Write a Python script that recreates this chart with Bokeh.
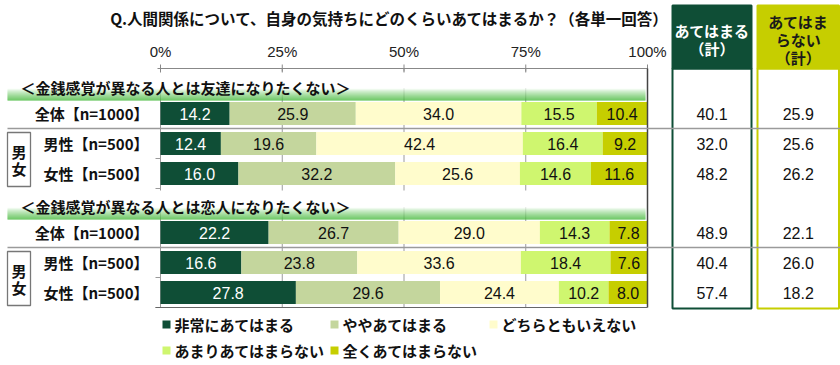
import numpy as np
from bokeh.plotting import figure
from bokeh.models import Range1d
from bokeh.core.properties import value
from bokeh.embed import file_html
from bokeh.resources import INLINE

# ---------------- data ----------------
title_text = "Q.人間関係について、自身の気持ちにどのくらいあてはまるか？（各単一回答）"
section_titles = ["＜金銭感覚が異なる人とは友達になりたくない＞",
                  "＜金銭感覚が異なる人とは恋人になりたくない＞"]
row_labels = ["全体【n=1000】", "男性【n=500】", "女性【n=500】",
              "全体【n=1000】", "男性【n=500】", "女性【n=500】"]
categories = ["非常にあてはまる", "ややあてはまる", "どちらともいえない",
              "あまりあてはまらない", "全くあてはまらない"]
very_much = [14.2, 12.4, 16.0, 22.2, 16.6, 27.8]
somewhat = [25.9, 19.6, 32.2, 26.7, 23.8, 29.6]
neither = [34.0, 42.4, 25.6, 29.0, 33.6, 24.4]
not_much = [15.5, 16.4, 14.6, 14.3, 18.4, 10.2]
not_at_all = [10.4, 9.2, 11.6, 7.8, 7.6, 8.0]
applies_total = [40.1, 32.0, 48.2, 48.9, 40.4, 57.4]
not_applies_total = [25.9, 25.6, 26.2, 22.1, 26.0, 18.2]
tick_values = [0, 25, 50, 75, 100]
tick_labels = ["0%", "25%", "50%", "75%", "100%"]
box1_header = ["あてはまる", "（計）"]
box2_header = ["あてはま", "らない", "（計）"]
gender_box_text = ["男", "女"]

# ---------------- style / layout ----------------
colors = ["#0f4e36", "#c4d69d", "#fffccc", "#cff66f", "#c6ce00"]
label_colors = ["white", "#111111", "#111111", "#111111", "#111111"]
JP = value("Noto Sans CJK JP")
NUM = value("Liberation Sans")

W, H = 840, 365
MARGIN = 0
X0_PAGE, X100_PAGE = 160.0, 647.0
AXIS_Y_PAGE = 68.0
ROW_PX = 30.0
PXU = (X100_PAGE - X0_PAGE) / 100.0


def px(xp):
    return (xp - X0_PAGE) / PXU


def py(yp):
    return (yp - AXIS_Y_PAGE) / ROW_PX


row_y_page = [113, 143, 173, 232, 262, 292]
header_y_page = [87, 206]
bottom_page = 307
row_y = [py(v) for v in row_y_page]
bar_h = 23 / ROW_PX

p = figure(width=W, height=H,
           x_range=Range1d(px(MARGIN), px(MARGIN + W)),
           y_range=Range1d(py(MARGIN + H), py(MARGIN)),
           output_backend="svg", toolbar_location=None,
           x_axis_location=None, y_axis_location=None,
           min_border=0, min_border_left=0, min_border_right=0,
           min_border_top=0, min_border_bottom=0)
p.grid.visible = False
p.outline_line_color = None
p.background_fill_color = "white"
p.border_fill_color = "white"

# vertical grid lines (behind bars)
p.segment(x0=tick_values[:-1], y0=[0] * 4, x1=tick_values[:-1], y1=[py(bottom_page)] * 4,
          line_color="#9a9a9a", line_width=1)
# left category ticks
bnd = [py(v) for v in [158, 188, 277, 307]]
p.segment(x0=[px(155)] * len(bnd), y0=bnd, x1=[0] * len(bnd), y1=bnd, line_color="#9a9a9a", line_width=1)

# section headers: white box + green gradient
for hy in header_y_page:
    p.quad(left=[px(7)], right=[px(645)], top=[py(hy - 16)], bottom=[py(hy + 1)],
           fill_color="white", line_color=None)
    n = 12
    tops = [py(hy + 1 + i) for i in range(n)]
    bots = [py(hy + 2 + i) for i in range(n)]
    c0 = np.array([250, 255, 250])
    c1 = np.array([70, 185, 60])
    cols = []
    for i in range(n):
        t = (i / (n - 1)) ** 0.8
        c = (c0 * (1 - t) + c1 * t).astype(int)
        cols.append("#%02x%02x%02x" % tuple(c))
    p.quad(left=[px(7)] * n, right=[px(645)] * n, top=tops, bottom=bots,
           fill_color=cols, line_color=None)

p.text(x=[px(20)] * 2, y=[py(v) for v in header_y_page], text=section_titles,
       text_font=JP, text_font_style="bold", text_font_size="15px",
       text_color="#111111", text_align="left", text_baseline="middle")

# stacked bars
series = [very_much, somewhat, neither, not_much, not_at_all]
left = np.zeros(len(row_y))
for vals, col, lc in zip(series, colors, label_colors):
    v = np.array(vals)
    right = left + v
    p.hbar(y=row_y, left=left, right=right, height=bar_h, fill_color=col, line_color=None)
    p.text(x=(left + right) / 2, y=row_y, text=["%.1f" % x for x in vals],
           text_font=NUM, text_font_size="16px", text_color=lc,
           text_align="center", text_baseline="middle")
    left = right

# top axis
p.segment(x0=[px(157)], y0=[0], x1=[100], y1=[0], line_color="#888888", line_width=1)
p.segment(x0=tick_values, y0=[py(64)] * 5, x1=tick_values, y1=[py(72)] * 5,
          line_color="#888888", line_width=1)
p.text(x=tick_values, y=[py(51)] * 5, text=tick_labels, text_font=NUM,
       text_font_size="15px", text_color="#222222", text_align="center", text_baseline="middle")
# right and bottom frame lines
p.segment(x0=[100], y0=[0], x1=[100], y1=[py(bottom_page)], line_color="#444444", line_width=1.5)
p.segment(x0=[px(155)], y0=[py(bottom_page)], x1=[100], y1=[py(bottom_page)],
          line_color="#666666", line_width=1.2)

# row labels
p.text(x=[px(148)] * 6, y=row_y, text=row_labels, text_font=JP, text_font_style="bold",
       text_font_size="15px", text_color="#111111", text_align="right", text_baseline="middle")

# 男女 boxes
for (a, b) in [(1, 2), (4, 5)]:
    cy = (row_y_page[a] + row_y_page[b]) / 2
    p.quad(left=[px(7)], right=[px(30)], top=[py(cy - 26)], bottom=[py(cy + 28)],
           fill_color="white", line_color="#777777", line_width=1.3)
    p.text(x=[px(18.5)] * 2, y=[py(cy - 7), py(cy + 10)], text=gender_box_text, text_font=JP,
           text_font_style="bold", text_font_size="15px", text_color="#111111",
           text_align="center", text_baseline="middle")

# right summary boxes
b1 = (672, 751)
b2 = (757, 838.5)
for (bx, col) in [(b1, colors[0]), (b2, colors[4])]:
    p.quad(left=[px(bx[0])], right=[px(bx[1])], top=[py(68)], bottom=[py(308)],
           fill_color="white", line_color=col, line_width=2)
    p.quad(left=[px(bx[0])], right=[px(bx[1])], top=[py(5)], bottom=[py(68)],
           fill_color=col, line_color=col, line_width=2)

p.text(x=[px((b1[0] + b1[1]) / 2)] * 2, y=[py(30), py(48)], text=box1_header, text_font=JP,
       text_font_style="bold", text_font_size="15px", text_color="white",
       text_align="center", text_baseline="middle")
p.text(x=[px((b2[0] + b2[1]) / 2)] * 3, y=[py(21), py(39), py(57)], text=box2_header,
       text_font=JP, text_font_style="bold", text_font_size="15px", text_color="#1a1a1a",
       text_align="center", text_baseline="middle")

p.text(x=[px((b1[0] + b1[1]) / 2)] * 6, y=row_y, text=["%.1f" % v for v in applies_total],
       text_font=NUM, text_font_size="16px", text_color="#111111",
       text_align="center", text_baseline="middle")
p.text(x=[px((b2[0] + b2[1]) / 2)] * 6, y=row_y, text=["%.1f" % v for v in not_applies_total],
       text_font=NUM, text_font_size="16px", text_color="#111111",
       text_align="center", text_baseline="middle")

# horizontal separators
seps = [(row_y_page[0] + row_y_page[1]) / 2, (row_y_page[3] + row_y_page[4]) / 2]
p.segment(x0=[px(7)] * 2, y0=[py(s) for s in seps], x1=[px(840)] * 2, y1=[py(s) for s in seps],
          line_color="#9a9a9a", line_width=1.5)

# title
p.text(x=[px(389)], y=[py(17)], text=[title_text], text_font=JP, text_font_style="bold",
       text_font_size="15.5px", text_color="#111111", text_align="center", text_baseline="middle")

# legend
leg_x = [166, 334, 493, 166, 334]
leg_y = [324, 324, 324, 350, 350]
p.rect(x=[px(v) for v in leg_x], y=[py(v) for v in leg_y], width=8, height=8,
       width_units="screen", height_units="screen", fill_color=colors, line_color=None)
p.text(x=[px(v + 8) for v in leg_x], y=[py(v) for v in leg_y], text=categories,
       text_font=JP, text_font_style="bold", text_font_size="15px", text_color="#111111",
       text_align="left", text_baseline="middle")

open("out.html", "w").write(file_html(p, INLINE))
